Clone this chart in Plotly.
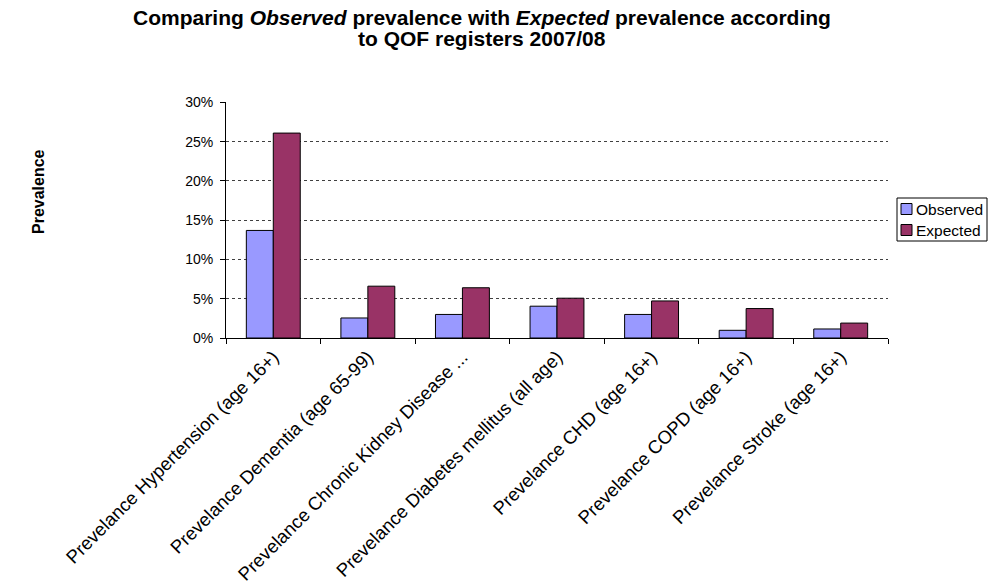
import plotly.graph_objects as go

categories = [
    "Prevelance Hypertension (age 16+)",
    "Prevelance Dementia (age 65-99)",
    "Prevelance Chronic Kidney Disease ...",
    "Prevelance Diabetes mellitus (all age)",
    "Prevelance CHD (age 16+)",
    "Prevelance COPD (age 16+)",
    "Prevelance Stroke (age 16+)",
]
observed = [0.137, 0.0255, 0.030, 0.0405, 0.030, 0.0098, 0.0115]
expected = [0.261, 0.066, 0.064, 0.0507, 0.0472, 0.0375, 0.019]
ytickvals = [0, 0.05, 0.10, 0.15, 0.20, 0.25, 0.30]
series_names = ["Observed", "Expected"]
series_colors = ["#9999FF", "#993366"]
title_line1 = "<b>Comparing <i>Observed</i> prevalence with <i>Expected</i> prevalence according</b>"
title_line2 = "<b>to QOF registers 2007/08</b>"

FONT = "Liberation Sans, Arial, sans-serif"
W, H = 988, 587
ML, MR, MT, MB = 226, 100, 102, 249
plot_w = W - ML - MR
plot_h = H - MT - MB


def px_x(x):
    return (x - ML) / plot_w


def px_y(y):
    return 1 - (y - MT) / plot_h


fig = go.Figure()
for name, vals, col in zip(series_names, [observed, expected], series_colors):
    fig.add_trace(go.Bar(name=name, x=categories, y=vals,
                         marker=dict(color=col, line=dict(color="#000000", width=1))))

shapes = []
annotations = []
# legend box (drawn manually to match the compact original legend)
shapes.append(dict(type="rect", xref="paper", yref="paper",
                   x0=px_x(897), x1=px_x(987), y0=px_y(198), y1=px_y(241),
                   line=dict(color="#000000", width=1), fillcolor="white"))
for i, (name, col) in enumerate(zip(series_names, series_colors)):
    cy = 209 + i * 21
    shapes.append(dict(type="rect", xref="paper", yref="paper",
                       x0=px_x(901), x1=px_x(912), y0=px_y(cy - 5.5), y1=px_y(cy + 5.5),
                       line=dict(color="#000000", width=1), fillcolor=col))
    annotations.append(dict(text=name, x=px_x(914), y=px_y(cy), xref="paper", yref="paper",
                            xanchor="left", yanchor="middle", showarrow=False,
                            font=dict(size=15.5)))

annotations += [
    dict(text=title_line1, x=px_x(482), y=px_y(31), xref="paper", yref="paper",
         xanchor="center", yanchor="bottom", showarrow=False, font=dict(size=21)),
    dict(text=title_line2, x=px_x(482), y=px_y(52), xref="paper", yref="paper",
         xanchor="center", yanchor="bottom", showarrow=False, font=dict(size=21)),
    dict(text="<b>Prevalence</b>", x=px_x(38), y=px_y(191), xref="paper", yref="paper",
         xanchor="center", yanchor="middle", showarrow=False, textangle=-90,
         font=dict(size=16)),
]

fig.update_layout(
    width=W, height=H,
    margin=dict(l=ML, r=MR, t=MT, b=MB, autoexpand=False),
    paper_bgcolor="white", plot_bgcolor="white",
    font=dict(family=FONT, size=14, color="#000000"),
    barmode="group", bargap=0.43, bargroupgap=0,
    showlegend=False,
    xaxis=dict(
        showline=True, linecolor="#000000", linewidth=1,
        ticks="outside", ticklen=5, tickcolor="#000000", tickson="boundaries",
        tickangle=-45, tickfont=dict(size=18.5),
        showgrid=False,
    ),
    yaxis=dict(
        range=[0, 0.3006], tickvals=ytickvals, tickformat=".0%",
        showline=True, linecolor="#000000", linewidth=1,
        ticks="outside", ticklen=5, tickcolor="#000000",
        showgrid=True, gridcolor="#404040", gridwidth=1, griddash="3px,3px",
        zeroline=False, tickfont=dict(size=14), ticklabelstandoff=4,
    ),
    shapes=shapes,
    annotations=annotations,
)
fig.write_html("out.html")
